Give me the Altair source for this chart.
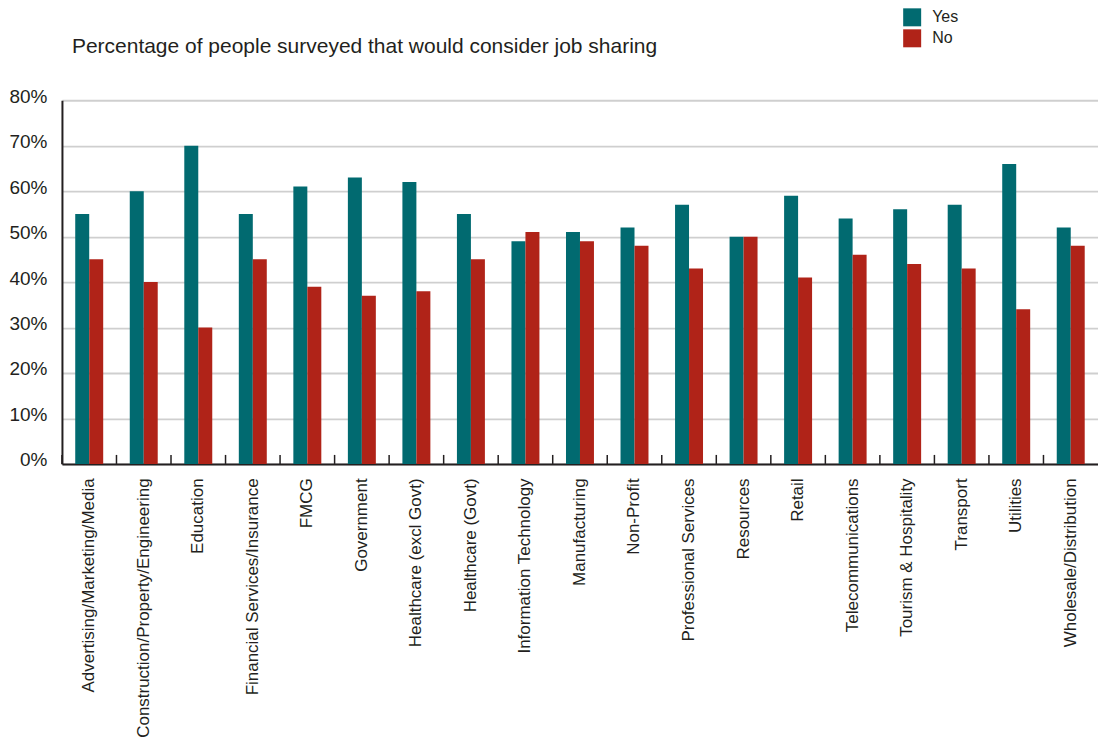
import altair as alt
import pandas as pd

categories = [
    "Advertising/Marketing/Media", "Construction/Property/Engineering", "Education",
    "Financial Services/Insurance", "FMCG", "Government", "Healthcare (excl Govt)",
    "Healthcare (Govt)", "Information Technology", "Manufacturing", "Non-Profit",
    "Professional Services", "Resources", "Retail", "Telecommunications",
    "Tourism & Hospitality", "Transport", "Utilities", "Wholesale/Distribution",
]
yes_values = [55, 60, 70, 55, 61, 63, 62, 55, 49, 51, 52, 57, 50, 59, 54, 56, 57, 66, 52]
no_values = [45, 40, 30, 45, 39, 37, 38, 45, 51, 49, 48, 43, 50, 41, 46, 44, 43, 34, 48]
answers = ["Yes", "No"]
colors = ["#016a70", "#b02318"]
y_ticks = [0, 10, 20, 30, 40, 50, 60, 70, 80]

rows = []
for c, y, n in zip(categories, yes_values, no_values):
    rows.append({"category": c, "answer": "Yes", "value": y / 100})
    rows.append({"category": c, "answer": "No", "value": n / 100})
df = pd.DataFrame(rows)
cat_df = pd.DataFrame({"category": categories})

FONT = "Liberation Sans"
TXT = "#231f20"

x_enc = alt.X(
    "category:N", sort=categories, title=None,
    scale=alt.Scale(paddingInner=0, paddingOuter=0),
    axis=alt.Axis(labelAngle=-90, labelFontSize=17, labelFont=FONT, labelColor=TXT,
                  ticks=False, labelPadding=14, domainColor=TXT, domainWidth=2,
                  labelLimit=400),
)

bars = alt.Chart(df).mark_bar().encode(
    x=x_enc,
    xOffset=alt.XOffset("answer:N", sort=answers,
                        scale=alt.Scale(paddingInner=0, paddingOuter=0.95)),
    y=alt.Y("value:Q", title=None,
            scale=alt.Scale(domain=[0, 0.8]),
            axis=alt.Axis(values=[v / 100 for v in y_ticks], format=".0%",
                          labelFontSize=19, labelFont=FONT, labelColor=TXT,
                          ticks=False, labelPadding=15, labelOffset=-4,
                          domainColor=TXT, domainWidth=2,
                          gridColor="#cfcfcf", gridWidth=1.8)),
    color=alt.Color("answer:N", sort=answers,
                    scale=alt.Scale(domain=answers, range=colors),
                    legend=alt.Legend(title=None, orient="none", legendX=842, legendY=-92,
                                      padding=0,
                                      symbolType="square", symbolSize=324,
                                      symbolStrokeWidth=0, labelFontSize=16,
                                      labelFont=FONT, labelColor=TXT,
                                      labelOffset=11, rowPadding=3)),
)

ticks = alt.Chart(cat_df).mark_rule(color=TXT, strokeWidth=1.5).encode(
    x=alt.X("category:N", sort=categories, bandPosition=0),
    y=alt.value(355),
    y2=alt.value(364),
)

chart = alt.layer(bars, ticks).properties(
    width=1037,
    height=364,
    padding={"left": 0, "top": 0, "right": 0, "bottom": 0},
    title=alt.TitleParams(
        "Percentage of people surveyed that would consider job sharing",
        anchor="start", frame="group", dx=10, offset=-66, baseline="alphabetic",
        fontSize=21, font=FONT, fontWeight="normal", color=TXT,
    ),
).configure_view(stroke=None).configure_axis(grid=True).configure_axisX(grid=False)

chart.save("out.html", embed_options={"renderer": "svg", "actions": False})
